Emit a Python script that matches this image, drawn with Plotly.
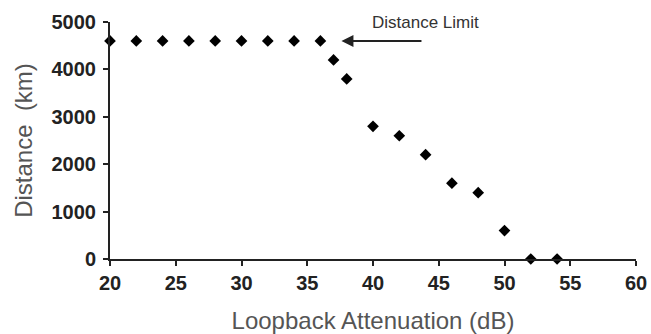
import plotly.graph_objects as go

attenuation_db = [20, 22, 24, 26, 28, 30, 32, 34, 36, 37, 38, 40, 42, 44, 46, 48, 50, 52, 54]
distance_km = [4600, 4600, 4600, 4600, 4600, 4600, 4600, 4600, 4600, 4200, 3800,
               2800, 2600, 2200, 1600, 1400, 600, 0, 0]
x_ticks = [20, 25, 30, 35, 40, 45, 50, 55, 60]
y_ticks = [0, 1000, 2000, 3000, 4000, 5000]

FONT = "Liberation Sans, Arial, sans-serif"

fig = go.Figure()
fig.add_trace(go.Scatter(
    x=attenuation_db, y=distance_km, mode="markers",
    marker=dict(symbol="diamond", size=9, color="black"),
    cliponaxis=False, showlegend=False,
))

fig.add_annotation(
    x=37.6, y=4600, ax=43.8, ay=4600, xref="x", yref="y", axref="x", ayref="y",
    showarrow=True, arrowhead=2, arrowsize=1.2, arrowwidth=2, arrowcolor="#222",
    text="",
)
fig.add_annotation(
    x=44.0, y=1.0, xref="x", yref="paper", yanchor="bottom", yshift=-12,
    text="Distance Limit", showarrow=False,
    font=dict(family=FONT, size=17, color="#333"),
)

tick_font = dict(family=FONT, size=20, color="#222", weight="bold")
title_font = dict(family=FONT, size=24, color="#555")
fig.update_layout(
    width=651, height=334,
    margin=dict(l=110, r=15, t=22, b=75, autoexpand=False),
    plot_bgcolor="white", paper_bgcolor="white",
    xaxis=dict(
        range=[20, 60], tickvals=x_ticks, ticks="outside", ticklen=5, tickwidth=2,
        tickcolor="#222", showline=True, linecolor="#222", linewidth=2,
        showgrid=False, zeroline=False, tickfont=tick_font, automargin=False,
        ticklabeloverflow="allow",
        title=dict(text="Loopback Attenuation (dB)", font=title_font, standoff=19),
    ),
    yaxis=dict(
        range=[0, 5000], tickvals=y_ticks, ticks="outside", ticklen=5, tickwidth=2,
        tickcolor="#222", showline=True, linecolor="#222", linewidth=2,
        showgrid=False, zeroline=False, tickfont=tick_font, automargin=False,
        ticklabelstandoff=3, ticklabeloverflow="allow",
        title=dict(text="Distance  (km)", font=title_font, standoff=12),
    ),
)

fig.write_html(
    "out.html",
    config={"displayModeBar": False},
    post_script="document.body.style.margin='0';document.body.style.overflow='hidden';",
)
